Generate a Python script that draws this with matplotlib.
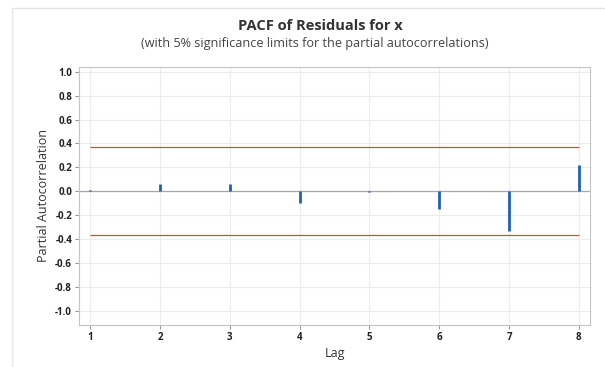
import matplotlib
matplotlib.use("Agg")
from matplotlib import pyplot as plt
from matplotlib.patches import Rectangle

lags = [1, 2, 3, 4, 5, 6, 7, 8]
pacf = [0.01, 0.06, 0.06, -0.10, -0.003, -0.145, -0.33, 0.22]
limit = 0.367
yticks = [1.0, 0.8, 0.6, 0.4, 0.2, 0.0, -0.2, -0.4, -0.6, -0.8, -1.0]

plt.rcParams['font.family'] = ['Open Sans', 'DejaVu Sans']

fig = plt.figure(figsize=(6.05, 3.67), dpi=100)
# light frame around the whole chart
fig.patches.append(Rectangle((12 / 605, -0.1), 1.1, 1 - 8 / 367 + 0.1,
                             transform=fig.transFigure, fill=False,
                             edgecolor='#e6e6e6', linewidth=1))

ax = fig.add_axes([79 / 605, 1 - 325 / 367, (590 - 79) / 605, (325 - 67) / 367])

ax.vlines(lags, 0, pacf, color='#1f63b0', linewidth=2, zorder=3)
ax.axhline(0, color='#a8a8a8', linewidth=0.9, zorder=2)
ax.hlines([limit, -limit], lags[0], lags[-1], color='#c0504d', linewidth=0.9, zorder=2)

ax.set_xlim(0.84, 8.16)
ax.set_ylim(-1.12, 1.04)
ax.set_xticks(lags)
ax.set_yticks(yticks)
ax.set_yticklabels(['%.1f' % v for v in yticks])
ax.grid(True, color='#ececec', linewidth=0.8)
ax.set_axisbelow(True)
for s in ax.spines.values():
    s.set_color('#c4c4c4')
ax.tick_params(length=3, color='#999999', labelsize=7, labelcolor='#222222', pad=2)
for lab in ax.get_xticklabels() + ax.get_yticklabels():
    lab.set_fontweight('bold')

ax.set_xlabel('Lag', fontsize=9, color='#333333', labelpad=3)
ax.set_ylabel('Partial Autocorrelation', fontsize=9, color='#333333', labelpad=4)

fig.text(320 / 605, 1 - 26.5 / 367, 'PACF of Residuals for x', ha='center', va='center',
         fontsize=10.5, fontweight='bold', color='#333333')
fig.text(315 / 605, 1 - 43 / 367, '(with 5% significance limits for the partial autocorrelations)',
         ha='center', va='center', fontsize=9.1, color='#444444')

fig.savefig('out.png', dpi=100)
